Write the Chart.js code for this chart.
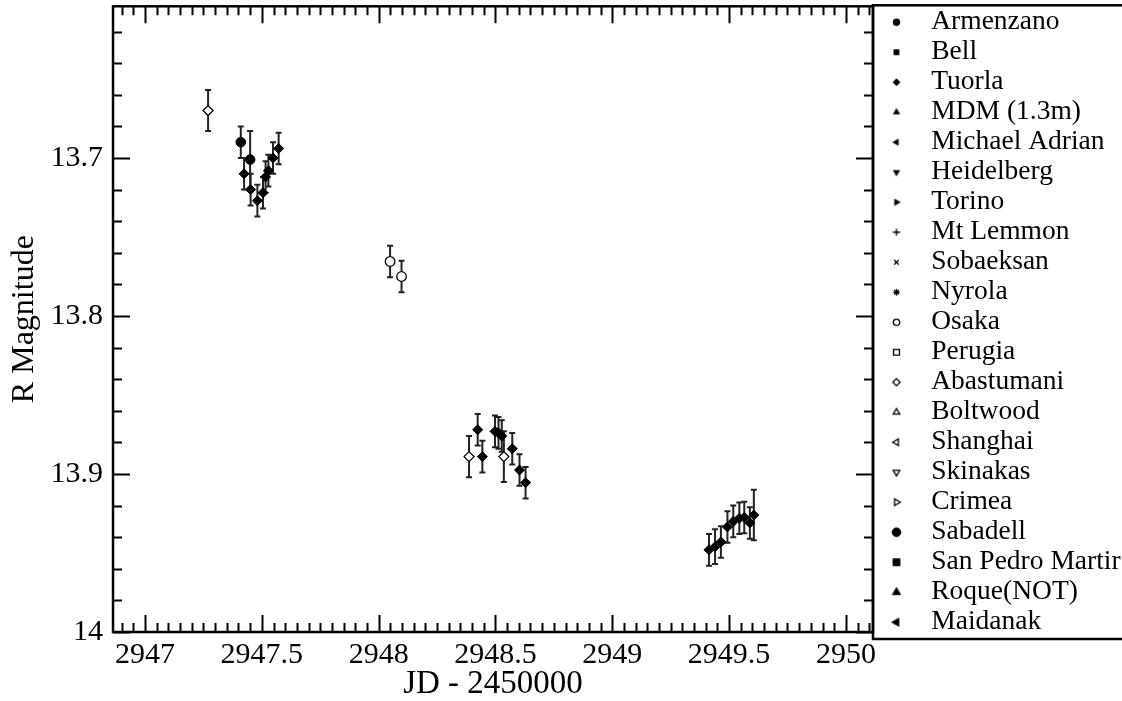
<!DOCTYPE html>
<html>
<head>
<meta charset="utf-8">
<script src="https://cdn.jsdelivr.net/npm/chart.js@4/dist/chart.umd.min.js"></script>
<style>
  html, body { margin: 0; padding: 0; background: #fff; }
  canvas { display: block; }
</style>
</head>
<body>
<canvas id="chart" width="1122" height="701"></canvas>
<script>
// observatories, in legend order
const SERIES_NAMES = ['Armenzano', 'Bell', 'Tuorla', 'MDM (1.3m)', 'Michael Adrian', 'Heidelberg',
  'Torino', 'Mt Lemmon', 'Sobaeksan', 'Nyrola', 'Osaka', 'Perugia', 'Abastumani', 'Boltwood',
  'Shanghai', 'Skinakas', 'Crimea', 'Sabadell', 'San Pedro Martir', 'Roque(NOT)', 'Maidanak'];

// JD - 2450000, R magnitude, 1-sigma error
const ARMENZANO_X = [2947.410, 2947.450];
const ARMENZANO_Y = [13.690, 13.701];
const ARMENZANO_ERR = [0.010, 0.018];

const TUORLA_X = [2947.424, 2947.452, 2947.481, 2947.505, 2947.516, 2947.528, 2947.548, 2947.572,
  2948.424, 2948.444, 2948.498, 2948.513, 2948.527, 2948.572, 2948.603, 2948.629,
  2949.414, 2949.440, 2949.465, 2949.493, 2949.518, 2949.544, 2949.565, 2949.589, 2949.606];
const TUORLA_Y = [13.710, 13.720, 13.727, 13.722, 13.712, 13.708, 13.700, 13.694,
  13.872, 13.889, 13.873, 13.874, 13.876, 13.884, 13.8975, 13.9055,
  13.948, 13.946, 13.943, 13.9335, 13.930, 13.928, 13.9275, 13.931, 13.926];
const TUORLA_ERR = [0.010, 0.010, 0.010, 0.010, 0.010, 0.010, 0.010, 0.010,
  0.010, 0.010, 0.010, 0.010, 0.010, 0.010, 0.010, 0.010,
  0.010, 0.011, 0.010, 0.010, 0.010, 0.010, 0.010, 0.010, 0.016];

const OSAKA_X = [2948.049, 2948.098];
const OSAKA_Y = [13.7655, 13.775];
const OSAKA_ERR = [0.010, 0.010];

const ABASTUMANI_X = [2947.270, 2948.387, 2948.536];
const ABASTUMANI_Y = [13.670, 13.889, 13.889];
const ABASTUMANI_ERR = [0.013, 0.013, 0.016];

const X_TICKS = [2947, 2947.5, 2948, 2948.5, 2949, 2949.5, 2950];
const X_TICK_LABELS = ['2947', '2947.5', '2948', '2948.5', '2949', '2949.5', '2950'];
const Y_TICKS = [13.7, 13.8, 13.9, 14];
const Y_TICK_LABELS = ['13.7', '13.8', '13.9', '14'];

const X_MIN = 2946.863, X_MAX = 2950.116;
const Y_MIN = 13.604, Y_MAX = 14.0;

// marker shape for each legend entry: [pointStyle, radius, filled, rotation]
const MARKERS = [
  ['circle', 3.4, true, 0], ['rect', 3.6, true, 0], ['rectRot', 3.5, true, 0], ['triangle', 3.6, true, 0],
  ['triangle', 3.6, true, 270], ['triangle', 3.6, true, 180], ['triangle', 3.6, true, 90],
  ['cross', 3.6, false, 0], ['crossRot', 3.2, false, 0], ['star', 3.2, false, 0],
  ['circle', 3.2, false, 0], ['rect', 4.2, false, 0], ['rectRot', 3.6, false, 0], ['triangle', 3.8, false, 0],
  ['triangle', 3.8, false, 270], ['triangle', 3.8, false, 180], ['triangle', 3.8, false, 90],
  ['circle', 4.4, true, 0], ['rect', 5, true, 0], ['triangle', 4.8, true, 0], ['triangle', 4.8, true, 270]
];

const FONT = 'Liberation Serif';

function pts(xs, ys){ return xs.map((x, i) => ({x, y: ys[i]})); }

function legendMarker(i){
  const [style, r, filled, rot] = MARKERS[i];
  const c = document.createElement('canvas');
  c.width = c.height = Math.ceil(2 * r + 6);
  const g = c.getContext('2d');
  g.fillStyle = filled ? '#000' : '#fff';
  g.strokeStyle = '#000';
  g.lineWidth = filled ? 0.8 : 1.3;
  Chart.helpers.drawPoint(g, {pointStyle: style, radius: r, rotation: rot, borderWidth: g.lineWidth}, c.width / 2, c.height / 2);
  return c;
}

const seriesData = {
  'Armenzano': {data: pts(ARMENZANO_X, ARMENZANO_Y), errors: ARMENZANO_ERR},
  'Tuorla': {data: pts(TUORLA_X, TUORLA_Y), errors: TUORLA_ERR},
  'Osaka': {data: pts(OSAKA_X, OSAKA_Y), errors: OSAKA_ERR},
  'Abastumani': {data: pts(ABASTUMANI_X, ABASTUMANI_Y), errors: ABASTUMANI_ERR}
};

const datasets = SERIES_NAMES.map((name, i) => {
  const [style, r, filled, rot] = MARKERS[i];
  const s = seriesData[name] || {data: [], errors: []};
  return {
    label: name,
    data: s.data,
    errors: s.errors,
    pointStyle: style,
    pointRotation: rot,
    pointRadius: style === 'rectRot' ? 5 : 4.8,
    backgroundColor: filled ? '#000' : '#fff',
    borderColor: '#000',
    borderWidth: filled ? 1 : 1.3,
    showLine: false
  };
});

const errorBars = {
  id: 'errorBars',
  beforeDatasetsDraw(chart){
    const {ctx, scales: {x, y}} = chart;
    ctx.save();
    ctx.strokeStyle = '#222';
    ctx.lineWidth = 2;
    chart.data.datasets.forEach(ds => {
      ds.data.forEach((p, j) => {
        const px = x.getPixelForValue(p.x);
        const y1 = y.getPixelForValue(p.y - ds.errors[j]);
        const y2 = y.getPixelForValue(p.y + ds.errors[j]);
        ctx.beginPath();
        ctx.moveTo(px, y1); ctx.lineTo(px, y2);
        ctx.moveTo(px - 3, y1); ctx.lineTo(px + 3, y1);
        ctx.moveTo(px - 3, y2); ctx.lineTo(px + 3, y2);
        ctx.stroke();
      });
    });
    ctx.restore();
  }
};

// frame with inward major/minor ticks on all four sides, plus the legend box
const frame = {
  id: 'frame',
  afterDraw(chart){
    const {ctx, chartArea: a, scales: {x, y}} = chart;
    ctx.save();
    ctx.strokeStyle = '#000';
    ctx.lineWidth = 2;
    ctx.beginPath();
    for (let k = Math.ceil(x.min / 0.05 - 1e-6); k * 0.05 <= x.max + 1e-9; k++){
      const px = Math.round(x.getPixelForValue(k * 0.05)) + 0.5;
      const len = k % 10 === 0 ? 17 : 9;
      ctx.moveTo(px, a.bottom); ctx.lineTo(px, a.bottom - len);
      ctx.moveTo(px, a.top); ctx.lineTo(px, a.top + len);
    }
    for (let k = Math.ceil(y.min / 0.02 - 1e-6); k * 0.02 <= y.max + 1e-9; k++){
      const py = Math.round(y.getPixelForValue(k * 0.02)) + 0.5;
      const len = k % 5 === 0 ? 17 : 9;
      ctx.moveTo(a.left, py); ctx.lineTo(a.left + len, py);
      ctx.moveTo(a.right, py); ctx.lineTo(a.right - len, py);
    }
    ctx.stroke();
    ctx.lineWidth = 2.5;
    ctx.strokeRect(a.left, a.top, a.right - a.left, a.bottom - a.top);
    const lg = chart.legend;
    const last = lg.legendHitBoxes[lg.legendHitBoxes.length - 1];
    const bottom = last.top + last.height + 3;
    ctx.strokeRect(a.right, a.top - 1, chart.width + 10 - a.right, bottom - a.top + 1);
    ctx.restore();
  }
};

new Chart(document.getElementById('chart'), {
  type: 'scatter',
  data: {datasets},
  options: {
    responsive: false,
    animation: false,
    layout: {padding: {left: 9, top: 6, right: -8.65, bottom: 0}},
    scales: {
      x: {
        type: 'linear', min: X_MIN, max: X_MAX,
        grid: {display: false, drawTicks: false},
        border: {display: false},
        afterBuildTicks: s => { s.ticks = X_TICKS.map(v => ({value: v})); },
        afterFit: s => { s.height = 69; },
        ticks: {
          callback: (v, i) => X_TICK_LABELS[i],
          font: {family: FONT, size: 30, lineHeight: 1},
          color: '#000', padding: 8, maxRotation: 0, autoSkip: false
        },
        title: {display: true, text: 'JD - 2450000', color: '#000',
          font: {family: FONT, size: 33, lineHeight: 1}, padding: {top: 0, bottom: 0}}
      },
      y: {
        type: 'linear', reverse: true, min: Y_MIN, max: Y_MAX,
        grid: {display: false, drawTicks: false},
        border: {display: false},
        afterBuildTicks: s => { s.ticks = Y_TICKS.map(v => ({value: v})); },
        afterFit: s => { s.width = 104; s.paddingTop = 0; s.paddingBottom = 0; },
        ticks: {
          callback: (v, i) => Y_TICK_LABELS[i],
          font: {family: FONT, size: 30, lineHeight: 1},
          color: '#000', padding: 10, autoSkip: false
        },
        title: {display: true, text: 'R Magnitude', color: '#000',
          font: {family: FONT, size: 32, lineHeight: 1}, padding: {top: 0, bottom: 0}}
      }
    },
    plugins: {
      legend: {
        position: 'right',
        align: 'start',
        labels: {
          usePointStyle: true,
          pointStyleWidth: 42,
          boxHeight: 6,
          padding: 2.5,
          color: '#000',
          font: {family: FONT, size: 27.5},
          generateLabels: chart => chart.data.datasets.map((ds, i) => ({
            text: ds.label, pointStyle: legendMarker(i), rotation: 0,
            datasetIndex: i, hidden: false, lineWidth: 0,
            fillStyle: '#000', strokeStyle: '#000', fontColor: '#000'
          }))
        }
      },
      tooltip: {enabled: false}
    }
  },
  plugins: [errorBars, frame]
});
</script>
</body>
</html>
